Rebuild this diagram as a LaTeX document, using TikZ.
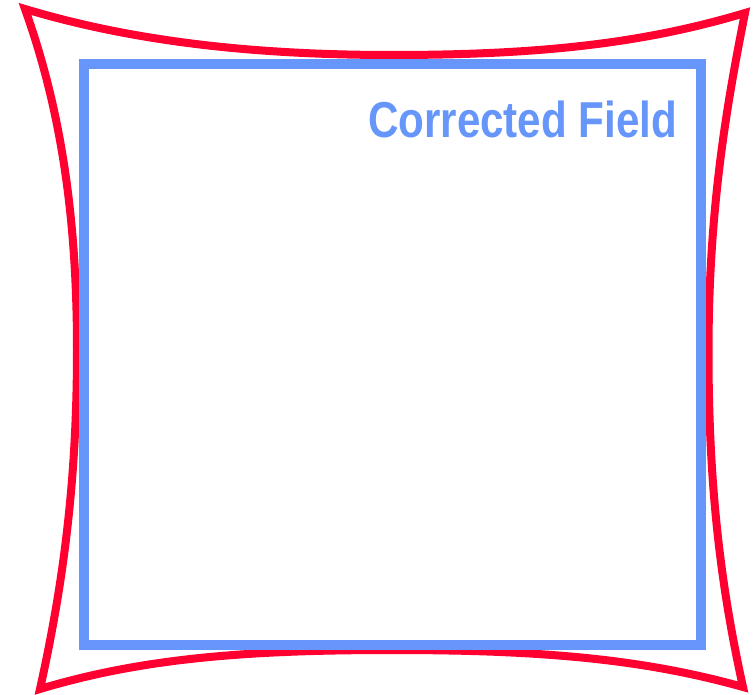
\documentclass[tikz,border=0pt]{standalone}
\usepackage{fontspec}
\newfontfamily\labelfont[FakeStretch=0.835]{Liberation Sans}
\definecolor{lensred}{RGB}{255,0,48}
\definecolor{fieldblue}{RGB}{102,150,250}
\begin{document}
\begin{tikzpicture}[x=1pt,y=-1pt,
  distorted/.style={draw=lensred, line width=8pt, line join=miter},
  corrected/.style={draw=fieldblue, line width=10pt, line join=miter},
  fieldlabel/.style={anchor=base east, inner sep=0pt, text=fieldblue, font=\labelfont\bfseries\fontsize{50.5}{60}\selectfont}]
\useasboundingbox (0,0) rectangle (753,695);
% corners of the distorted field
\coordinate (TL) at (25,9);
\coordinate (TR) at (745,13);
\coordinate (BR) at (743,687);
\coordinate (BL) at (40,689);
\coordinate (MT) at (392,55);
\coordinate (MR) at (708.5,352);
\coordinate (MB) at (392,650);
\coordinate (ML) at (77,350);
\path[distorted]
  (TL) .. controls (125,39) and (242,55) .. (MT)
       .. controls (542,55) and (645,43) .. (TR)
       .. controls (726,108) and (708.5,212) .. (MR)
       .. controls (708.5,492) and (722,592) .. (BR)
       .. controls (643,659) and (542,650) .. (MB)
       .. controls (242,650) and (140,659) .. (BL)
       .. controls (61,594) and (77,490) .. (ML)
       .. controls (77,210) and (59,104) .. cycle;
% corrected field
\coordinate (c1) at (84,64);
\coordinate (c2) at (700.5,645);
\path[corrected] (c1) rectangle (c2);
\node[fieldlabel] (lbl) at (677.5,137.5) {Corrected Field};
\end{tikzpicture}
\end{document}
